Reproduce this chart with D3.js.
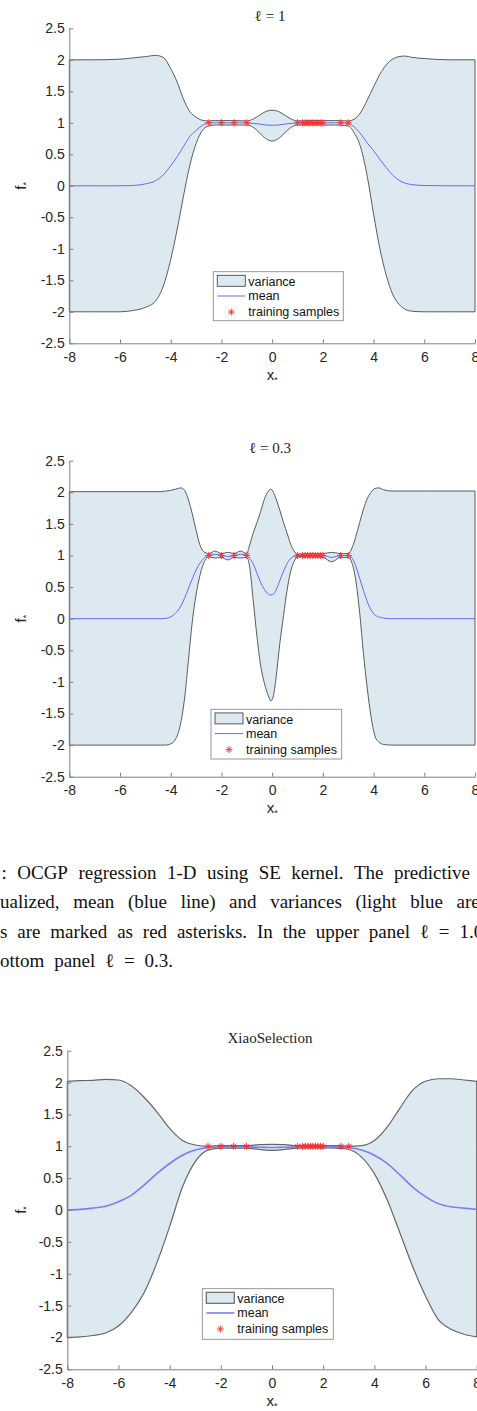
<!DOCTYPE html>
<html>
<head>
<meta charset="utf-8">
<script src="https://cdn.jsdelivr.net/npm/d3@7"></script>
<style>
html, body { margin: 0; padding: 0; background: #fff; overflow: hidden; }
svg { display: block; }
</style>
</head>
<body>
<div id="chart"></div>
<script>
// ticks and labels
var xTicks = [-8, -6, -4, -2, 0, 2, 4, 6, 8];
var yTicks = [-2.5, -2, -1.5, -1, -0.5, 0, 0.5, 1, 1.5, 2, 2.5];
var legendLabels = ["variance", "mean", "training samples"];
var titles = ["ℓ = 1", "ℓ = 0.3", "XiaoSelection"];

// training samples (same in every panel)
var trainX = [-2.5, -2, -1.5, -1, 1, 1.2, 1.3, 1.4, 1.5, 1.6, 1.7, 1.8, 1.9, 2, 2.7, 3];
var trainY = [1, 1, 1, 1, 1, 1, 1, 1, 1, 1, 1, 1, 1, 1, 1, 1];

// panel 1, l = 1
var p1X     = [-8, -7, -6, -5.5, -5, -4.6, -4.3, -4, -3.75, -3.5, -3.25, -3, -2.75, -2.5, -2.25, -2, -1.5, -1, -0.75, -0.5, -0.25, 0, 0.25, 0.5, 0.75, 1, 1.5, 2, 2.5, 3, 3.25, 3.5, 3.75, 4, 4.25, 4.5, 4.75, 5, 5.25, 5.5, 6, 7, 8];
var p1Upper = [2.0, 2.0, 2.01, 2.03, 2.05, 2.07, 2.04, 1.86, 1.65, 1.38, 1.18, 1.09, 1.04, 1.03, 1.035, 1.035, 1.035, 1.03, 1.06, 1.12, 1.18, 1.2, 1.18, 1.12, 1.06, 1.03, 1.035, 1.035, 1.035, 1.03, 1.06, 1.17, 1.36, 1.57, 1.77, 1.92, 2.01, 2.05, 2.06, 2.04, 2.02, 2.0, 2.0];
var p1Lower = [-2.0, -2.0, -2.0, -1.98, -1.93, -1.83, -1.6, -1.17, -0.7, -0.17, 0.32, 0.67, 0.88, 0.95, 0.965, 0.965, 0.965, 0.965, 0.93, 0.84, 0.75, 0.71, 0.75, 0.84, 0.93, 0.965, 0.965, 0.965, 0.965, 0.95, 0.83, 0.6, 0.15, -0.45, -1.0, -1.42, -1.72, -1.88, -1.96, -1.99, -2.0, -2.0, -2.0];
var p1Mean  = [0, 0, 0, 0.005, 0.03, 0.08, 0.17, 0.32, 0.46, 0.62, 0.78, 0.88, 0.96, 1.0, 1.0, 1.0, 1.0, 1.0, 0.99, 0.98, 0.965, 0.96, 0.965, 0.98, 0.99, 1.0, 1.0, 1.0, 1.0, 0.99, 0.93, 0.82, 0.68, 0.56, 0.42, 0.29, 0.17, 0.09, 0.04, 0.02, 0.005, 0, 0];

// panel 2, l = 0.3
var p2X     = [-8, -6, -4.4, -4.2, -4, -3.8, -3.6, -3.45, -3.3, -3.15, -3, -2.85, -2.7, -2.6, -2.5, -2.25, -2, -1.75, -1.5, -1.25, -1, -0.9, -0.75, -0.6, -0.45, -0.3, -0.15, -0.05, 0.05, 0.15, 0.3, 0.45, 0.6, 0.75, 0.9, 1, 1.5, 2, 2.35, 2.7, 3, 3.15, 3.3, 3.45, 3.6, 3.75, 3.9, 4.05, 4.2, 4.4, 4.7, 5, 6, 8];
var p2Upper = [2.01, 2.01, 2.01, 2.02, 2.03, 2.05, 2.07, 2.03, 1.88, 1.66, 1.4, 1.17, 1.06, 1.04, 1.03, 1.07, 1.03, 1.05, 1.03, 1.07, 1.03, 1.15, 1.35, 1.52, 1.7, 1.9, 2.02, 2.05, 2.0, 1.9, 1.72, 1.52, 1.34, 1.16, 1.05, 1.02, 1.03, 1.03, 1.05, 1.03, 1.03, 1.12, 1.3, 1.52, 1.73, 1.9, 2.0, 2.06, 2.07, 2.04, 2.02, 2.02, 2.02, 2.02];
var p2Lower = [-2.0, -2.0, -2.0, -2.0, -1.98, -1.9, -1.64, -1.25, -0.65, -0.05, 0.38, 0.68, 0.88, 0.95, 0.98, 0.96, 0.97, 0.93, 0.97, 0.96, 0.97, 0.85, 0.3, -0.28, -0.75, -1.03, -1.22, -1.3, -1.22, -0.95, -0.4, 0.05, 0.48, 0.78, 0.93, 0.98, 0.98, 0.97, 0.9, 0.97, 0.97, 0.88, 0.6, 0.1, -0.55, -1.1, -1.55, -1.85, -1.95, -1.99, -2.0, -2.0, -2.0, -2.0];
var p2Mean  = [0, 0, 0, 0.005, 0.03, 0.09, 0.2, 0.33, 0.48, 0.63, 0.77, 0.88, 0.95, 0.99, 1.0, 1.02, 1.0, 0.985, 1.0, 1.02, 1.0, 0.96, 0.87, 0.72, 0.57, 0.46, 0.39, 0.375, 0.39, 0.45, 0.6, 0.75, 0.88, 0.96, 0.99, 1.0, 1.0, 1.0, 0.97, 1.0, 1.0, 0.96, 0.83, 0.64, 0.45, 0.27, 0.14, 0.06, 0.03, 0.01, 0, 0, 0, 0];

// panel 3, XiaoSelection
var p3X     = [-8, -7.5, -7, -6.5, -6, -5.5, -5, -4.5, -4, -3.5, -3, -2.5, -2, -1.5, -1, -0.5, 0, 0.5, 1, 1.5, 2, 2.5, 3, 3.5, 4, 4.5, 5, 5.5, 6, 6.5, 7, 7.5, 8];
var p3Upper = [2.02, 2.03, 2.035, 2.05, 2.04, 1.95, 1.77, 1.54, 1.28, 1.09, 1.02, 1.0, 1.01, 1.01, 1.01, 1.025, 1.03, 1.025, 1.01, 1.01, 1.01, 1.01, 1.0, 1.01, 1.09, 1.3, 1.6, 1.88, 2.02, 2.06, 2.06, 2.04, 2.02];
var p3Lower = [-2.0, -1.99, -1.97, -1.93, -1.82, -1.61, -1.3, -0.83, -0.26, 0.36, 0.76, 0.94, 0.97, 0.97, 0.97, 0.95, 0.935, 0.95, 0.97, 0.975, 0.975, 0.97, 0.95, 0.83, 0.57, 0.16, -0.36, -0.89, -1.35, -1.72, -1.87, -1.95, -1.99];
var p3Mean  = [0, 0.01, 0.03, 0.06, 0.13, 0.23, 0.39, 0.57, 0.73, 0.86, 0.94, 0.98, 0.99, 0.995, 0.99, 0.985, 0.98, 0.985, 0.99, 1.0, 1.0, 0.99, 0.98, 0.94, 0.86, 0.73, 0.55, 0.36, 0.21, 0.1, 0.05, 0.03, 0.01];

// caption lines (clipped at both sides in the source image)
var captionLines = [
    ": OCGP regression 1-D using SE kernel. The predictive distribution",
    "ualized, mean (blue line) and variances (light blue area).",
    "s are marked as red asterisks. In the upper panel ℓ = 1.0 and",
    "ottom panel ℓ = 0.3."
];

var width = 477,
    height = 1411,
    fillColor = '#dde9f1',
    axisColor = '#808080',
    textColor = '#262626',
    starColor = '#ff2a2a';

var panels = [
    {x: p1X, up: p1Upper, lo: p1Lower, mean: p1Mean, title: titles[0],
     left: 69.3, right: 475, top: 28.3, bottom: 343.3, titleY: 21,
     legend: [213.3, 271.7, 130, 49], meanColor: '#6868f4', meanWidth: 1, edge: '#4a4a4a', edgeWidth: 0.9},
    {x: p2X, up: p2Upper, lo: p2Lower, mean: p2Mean, title: titles[1],
     left: 69.3, right: 475, top: 460.7, bottom: 776.7, titleY: 453,
     legend: [211, 709.3, 130.7, 49.7], meanColor: '#6868f4', meanWidth: 1, edge: '#4a4a4a', edgeWidth: 0.9},
    {x: p3X, up: p3Upper, lo: p3Lower, mean: p3Mean, title: titles[2],
     left: 67.3, right: 476.7, top: 1050.7, bottom: 1369.3, titleY: 1043,
     legend: [202.3, 1288.7, 131, 50.6], meanColor: '#7c7cf6', meanWidth: 1.6, edge: '#666', edgeWidth: 1.2}
];

var starPath = 'M-3.5,0H3.5M0,-3.5V3.5M-2.5,-2.5L2.5,2.5M-2.5,2.5L2.5,-2.5';

var svg = d3.select('#chart')
    .append('svg')
    .attr('width', width)
    .attr('height', height);

panels.forEach(function (p) {
    var x = d3.scaleLinear().domain([-8, 8]).range([p.left, p.right]);
    var y = d3.scaleLinear().domain([-2.5, 2.5]).range([p.bottom, p.top]);
    var idx = d3.range(p.x.length);
    var g = svg.append('g');

    var band = d3.area()
        .x(function (i) { return x(p.x[i]); })
        .y0(function (i) { return y(p.lo[i]); })
        .y1(function (i) { return y(p.up[i]); })
        .curve(d3.curveMonotoneX);

    g.append('path')
        .attr('d', band(idx))
        .attr('fill', fillColor)
        .attr('stroke', p.edge)
        .attr('stroke-width', p.edgeWidth)
        .attr('stroke-linejoin', 'round');

    var line = d3.line()
        .x(function (i) { return x(p.x[i]); })
        .y(function (i) { return y(p.mean[i]); })
        .curve(d3.curveMonotoneX);

    g.append('path')
        .attr('d', line(idx))
        .attr('fill', 'none')
        .attr('stroke', p.meanColor)
        .attr('stroke-width', p.meanWidth);

    g.append('g')
        .selectAll('path')
        .data(trainX)
        .enter()
        .append('path')
        .attr('d', starPath)
        .attr('transform', function (d, i) { return 'translate(' + x(d) + ',' + y(trainY[i]) + ')'; })
        .attr('stroke', starColor)
        .attr('stroke-width', 0.9)
        .attr('fill', 'none');

    // axes, ticks pointing inwards as in matlab
    var xAxis = g.append('g')
        .attr('transform', 'translate(0,' + p.bottom + ')')
        .call(d3.axisBottom(x).tickValues(xTicks).tickFormat(function (d) { return String(d); })
            .tickSizeInner(-4).tickSizeOuter(0).tickPadding(8.5));

    var yAxis = g.append('g')
        .attr('transform', 'translate(' + p.left + ',0)')
        .call(d3.axisLeft(y).tickValues(yTicks).tickFormat(function (d) { return String(d); })
            .tickSizeInner(-4).tickSizeOuter(0).tickPadding(4.5));

    [xAxis, yAxis].forEach(function (a) {
        a.select('.domain').attr('stroke', axisColor);
        a.selectAll('.tick line').attr('stroke', axisColor);
        a.selectAll('.tick text')
            .attr('fill', textColor)
            .style('font-family', '"Liberation Sans", Arial, sans-serif')
            .style('font-size', '14px');
    });

    // title
    g.append('text')
        .attr('x', (p.left + p.right) / 2 - 2)
        .attr('y', p.titleY)
        .attr('text-anchor', 'middle')
        .attr('fill', '#222')
        .style('font-family', '"Liberation Serif", "Times New Roman", serif')
        .style('font-size', '15px')
        .text(p.title);

    // axis labels
    var xl = g.append('text')
        .attr('x', (p.left + p.right) / 2)
        .attr('y', p.bottom + 36.5)
        .attr('text-anchor', 'middle')
        .attr('fill', textColor)
        .style('font-family', '"Liberation Sans", Arial, sans-serif')
        .style('font-size', '15px');
    xl.append('tspan').text('x');
    xl.append('tspan').attr('dy', 3).style('font-size', '9px').text('*');

    var yl = g.append('text')
        .attr('transform', 'translate(26,' + (p.top + p.bottom) / 2 + ') rotate(-90)')
        .attr('text-anchor', 'middle')
        .attr('fill', textColor)
        .style('font-family', '"Liberation Sans", Arial, sans-serif')
        .style('font-size', '15px');
    yl.append('tspan').text('f');
    yl.append('tspan').attr('dy', 3).style('font-size', '9px').text('*');

    // legend
    var L = p.legend;
    var lg = g.append('g').attr('transform', 'translate(' + L[0] + ',' + L[1] + ')');
    lg.append('rect')
        .attr('width', L[2]).attr('height', L[3])
        .attr('fill', '#fff')
        .attr('stroke', '#8c8c8c')
        .attr('stroke-width', 0.9);
    lg.append('rect')
        .attr('x', 4).attr('y', 3.6).attr('width', 28).attr('height', 11)
        .attr('fill', fillColor)
        .attr('stroke', p.edge)
        .attr('stroke-width', p.edgeWidth);
    lg.append('line')
        .attr('x1', 4).attr('x2', 32).attr('y1', 24.3).attr('y2', 24.3)
        .attr('stroke', p.meanColor)
        .attr('stroke-width', p.meanWidth);
    lg.append('path')
        .attr('d', starPath)
        .attr('transform', 'translate(18,40.3)')
        .attr('stroke', starColor)
        .attr('stroke-width', 0.9)
        .attr('fill', 'none');
    lg.selectAll('text.lab')
        .data(legendLabels)
        .enter()
        .append('text')
        .attr('class', 'lab')
        .attr('x', 35)
        .attr('y', function (d, i) { return [14.3, 28.6, 44.3][i]; })
        .attr('fill', '#111')
        .style('font-family', '"Liberation Sans", Arial, sans-serif')
        .style('font-size', '12.5px')
        .text(function (d) { return d; });
});

// caption, justified lines: the end x of a known prefix of words fixes the word gap
var captionFit = [
    {start: 1.5, prefix: 9, end: 470},
    {start: 0, prefix: 8, end: 443},
    {start: 0, prefix: 10, end: 410},
    {start: 0, prefix: 5, end: 173}
];
var captionY = [879.3, 908.4, 937.5, 966.6];

var cap = svg.append('g')
    .style('font-family', '"Liberation Serif", "Times New Roman", serif')
    .style('font-size', '19px')
    .attr('fill', '#111');

captionLines.forEach(function (text, li) {
    var words = text.split(' ');
    var fit = captionFit[li];
    var nodes = words.map(function (w) {
        return cap.append('text').attr('y', captionY[li]).text(w);
    });
    var widths = nodes.map(function (n) { return n.node().getComputedTextLength(); });
    var sum = d3.sum(widths.slice(0, fit.prefix));
    var gap = (fit.end - fit.start - sum) / (fit.prefix - 1);
    var cx = fit.start;
    nodes.forEach(function (n, i) {
        n.attr('x', cx);
        cx += widths[i] + gap;
    });
});
</script>
</body>
</html>
